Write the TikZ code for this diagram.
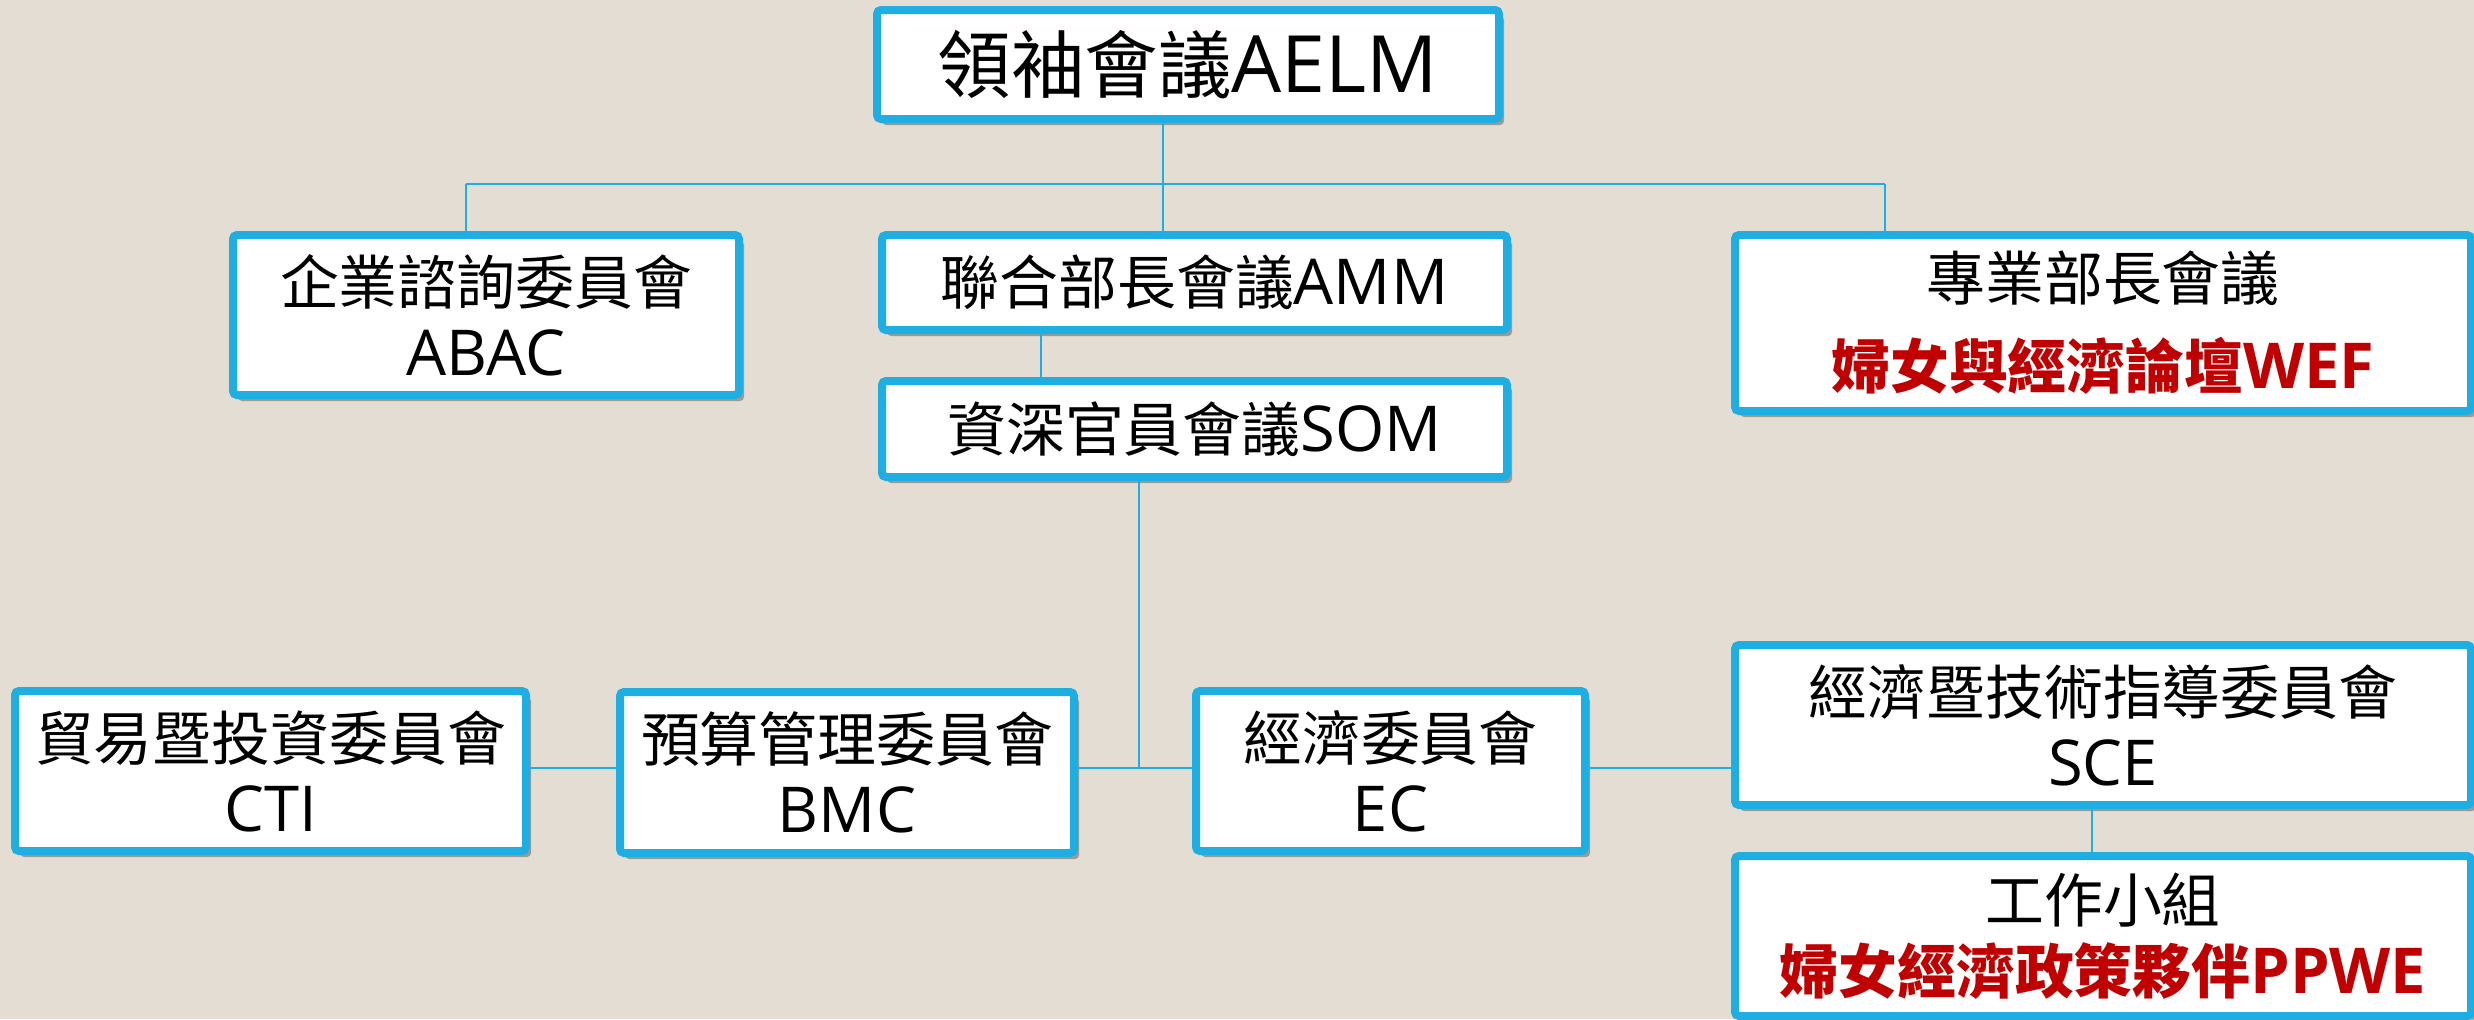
\documentclass[tikz,border=0pt]{standalone}
\usepackage{fontspec, xcolor}
\setmainfont{Open Sans}
\newfontfamily\cjk{Noto Sans CJK TC}[Scale=0.93]
\usetikzlibrary{shadows}
\definecolor{apecblue}{HTML}{1EAEE2}
\definecolor{paper}{HTML}{E3DDD3}
\definecolor{wered}{HTML}{C00000}

\begin{document}
\begin{tikzpicture}
			\tikzstyle{Unit} = [rectangle, rounded corners=0.04cm, inner sep=0pt, align=center, text centered, draw=apecblue, line width=0.08cm, fill=white, drop shadow={shadow xshift=0.05cm, shadow yshift=-0.06cm, fill=black, opacity=0.3}, font=\fontsize{18}{20.2}\selectfont]
			\tikzstyle{Leader} = [Unit, font=\fontsize{22.5}{26}\selectfont]
			\tikzstyle{link} = [line width=0.02cm, apecblue]
			
			%\draw[step=1,gray,very thin] (0,0) grid (25,-11);
			
			\useasboundingbox (0,0) rectangle (24.74,-10.19);
			\fill [paper] (0,0) rectangle (24.74,-10.19);
			
			\node (aelmNode) [Leader, minimum width=6.22cm, minimum height=1.09cm] at (11.88,-0.645) {{\cjk 領袖會議}AELM};
			\node (abacNode) [Unit, minimum width=5.06cm, minimum height=1.60cm] at (4.86,-3.15) {{\cjk 企業諮詢委員會}\\ABAC};
			\node (ammNode) [Unit, minimum width=6.25cm, minimum height=0.95cm] at (11.945,-2.825) {{\cjk 聯合部長會議}AMM};
			\node (wefNode) [Unit, minimum width=7.36cm, minimum height=1.76cm] at (21.03,-3.23) {{\cjk 專業部長會議}\\[0.17cm]\textcolor{wered}{\bfseries{\cjk 婦女與經濟論壇}WEF}};
			\node (somNode) [Unit, minimum width=6.25cm, minimum height=0.96cm] at (11.945,-4.29) {{\cjk 資深官員會議}SOM};
			\node (ctiNode) [Unit, minimum width=5.11cm, minimum height=1.60cm] at (2.705,-7.71) {{\cjk 貿易暨投資委員會}\\CTI};
			\node (bmcNode) [Unit, minimum width=4.54cm, minimum height=1.61cm] at (8.47,-7.725) {{\cjk 預算管理委員會}\\BMC};
			\node (ecNode) [Unit, minimum width=3.89cm, minimum height=1.60cm] at (13.905,-7.71) {{\cjk 經濟委員會}\\EC};
			\node (sceNode) [Unit, minimum width=7.36cm, minimum height=1.60cm] at (21.03,-7.25) {{\cjk 經濟暨技術指導委員會}\\SCE};
			\node (ppweNode) [Unit, minimum width=7.36cm, minimum height=1.60cm] at (21.03,-9.36) {{\cjk 工作小組}\\\textcolor{wered}{\bfseries{\cjk 婦女經濟政策夥伴}PPWE}};
			
			\coordinate (topBus) at (11.63,-1.84);
			\coordinate (leftBus) at (4.66,-1.84);
			\coordinate (rightBus) at (18.85,-1.84);
			\coordinate (ammDrop) at (10.41,0);
			\coordinate (midBus) at (11.39,-7.68);
			\coordinate (sceDrop) at (20.92,0);
			
			\draw [link] (aelmNode.south -| topBus) -- (topBus) -- (ammNode.north -| topBus);
			\draw [link] (leftBus) -- (rightBus);
			\draw [link] (leftBus) -- (abacNode.north -| leftBus);
			\draw [link] (rightBus) -- (wefNode.north -| rightBus);
			\draw [link] (ammNode.south -| ammDrop) -- (somNode.north -| ammDrop);
			\draw [link] (somNode.south -| midBus) -- (midBus);
			\draw [link] (ctiNode.east |- midBus) -- (bmcNode.west |- midBus);
			\draw [link] (bmcNode.east |- midBus) -- (ecNode.west |- midBus);
			\draw [link] (ecNode.east |- midBus) -- (sceNode.west |- midBus);
			\draw [link] (sceNode.south -| sceDrop) -- (ppweNode.north -| sceDrop);
		\end{tikzpicture}
\end{document}
